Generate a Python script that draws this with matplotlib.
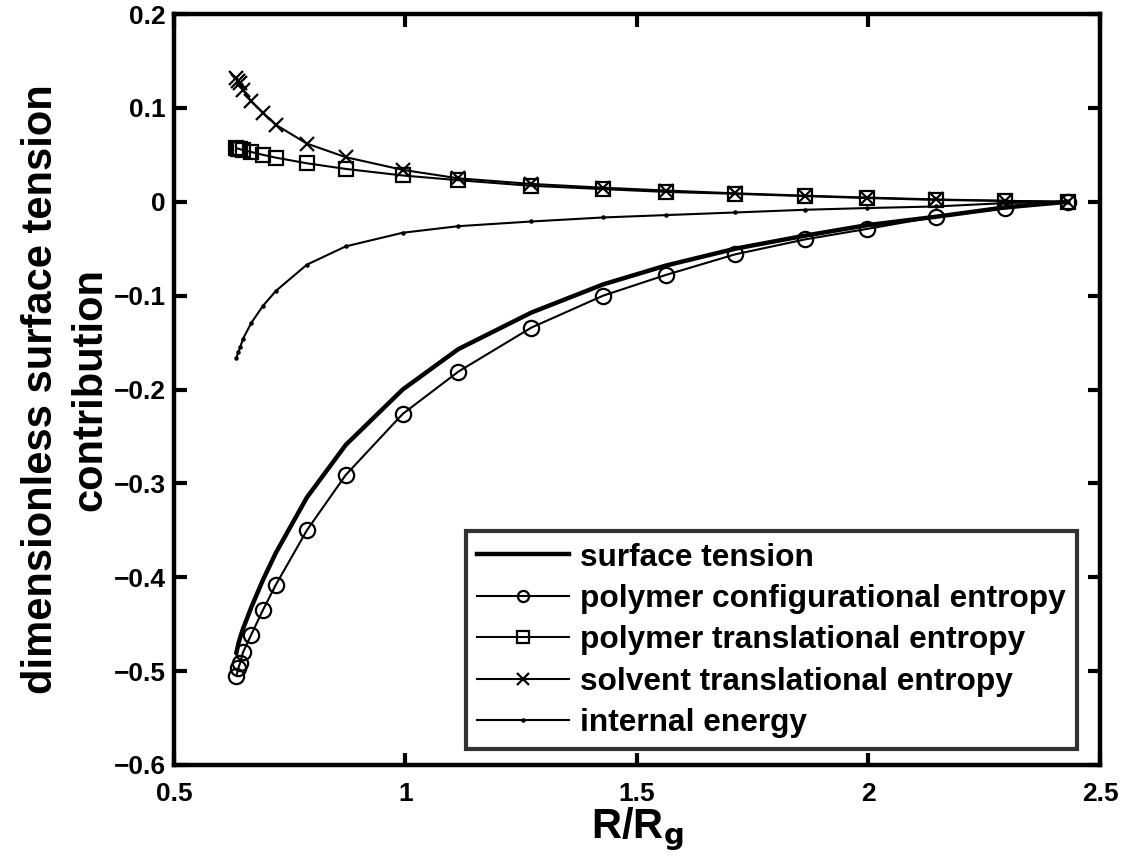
import matplotlib
matplotlib.use("Agg")
import matplotlib.pyplot as plt

# R/Rg sample points (shared by all curves)
r_rg = [0.635, 0.639, 0.643, 0.649, 0.667, 0.692, 0.720, 0.787, 0.871, 0.994,
        1.114, 1.272, 1.427, 1.562, 1.712, 1.864, 1.996, 2.145, 2.295, 2.430]

surface_tension = [-0.480, -0.471, -0.464, -0.455, -0.432, -0.403, -0.374, -0.315,
                   -0.259, -0.200, -0.157, -0.118, -0.088, -0.068, -0.050, -0.036,
                   -0.025, -0.016, -0.006, 0.000]
poly_config = [-0.505, -0.497, -0.491, -0.480, -0.461, -0.435, -0.408, -0.350,
               -0.291, -0.226, -0.181, -0.134, -0.100, -0.078, -0.056, -0.040,
               -0.029, -0.016, -0.007, 0.000]
poly_trans = [0.057, 0.0565, 0.056, 0.055, 0.053, 0.050, 0.047, 0.041, 0.035,
              0.028, 0.023, 0.017, 0.0135, 0.0105, 0.0085, 0.006, 0.004, 0.002,
              0.001, 0.000]
solvent_trans = [0.132, 0.129, 0.126, 0.119, 0.107, 0.095, 0.082, 0.062, 0.0475,
                 0.034, 0.025, 0.019, 0.015, 0.012, 0.009, 0.0065, 0.0045, 0.0025,
                 0.001, 0.000]
internal_energy = [-0.166, -0.160, -0.155, -0.146, -0.129, -0.111, -0.095, -0.067,
                   -0.0475, -0.033, -0.026, -0.021, -0.0167, -0.0142, -0.0114,
                   -0.0085, -0.0067, -0.005, -0.0014, 0.000]

xticks = [0.5, 1, 1.5, 2, 2.5]
xtick_labels = ["0.5", "1", "1.5", "2", "2.5"]
yticks = [-0.6, -0.5, -0.4, -0.3, -0.2, -0.1, 0, 0.1, 0.2]
ytick_labels = ["\u22120.6", "\u22120.5", "\u22120.4", "\u22120.3", "\u22120.2",
                "\u22120.1", "0", "0.1", "0.2"]

plt.rcParams["font.family"] = ["Liberation Sans", "DejaVu Sans"]
plt.rcParams["font.weight"] = "bold"

fig = plt.figure(figsize=(11.24, 8.61), dpi=100)
ax = fig.add_axes([0.1548, 0.1115, 0.8238, 0.8722])

ax.plot(r_rg, surface_tension, color="k", lw=3.2, label="surface tension")
ax.plot(r_rg, poly_config, color="k", lw=1.5, marker="o", ms=11, mfc="none",
        mew=1.6, label="polymer configurational entropy")
ax.plot(r_rg, poly_trans, color="k", lw=1.5, marker="s", ms=9.5, mfc="none",
        mew=1.6, label="polymer translational entropy")
ax.plot(r_rg, solvent_trans, color="k", lw=1.5, marker="x", ms=9.5, mew=1.6,
        label="solvent translational entropy")
ax.plot(r_rg, internal_energy, color="k", lw=1.5, marker=".", ms=4.5,
        label="internal energy")

ax.set_xlim(0.5, 2.5)
ax.set_ylim(-0.6, 0.2)
ax.set_xticks(xticks)
ax.set_xticklabels(xtick_labels)
ax.set_yticks(yticks)
ax.set_yticklabels(ytick_labels)
ax.tick_params(direction="in", length=9, width=3, labelsize=19,
               top=True, right=True)
ax.tick_params(axis="x", pad=12)
ax.tick_params(axis="y", pad=6)
for s in ax.spines.values():
    s.set_linewidth(3.2)

ax.set_xlabel("R/R$_\\mathbf{g}$", fontsize=30, fontweight="bold", labelpad=0)
ax.set_ylabel("dimensionless surface tension\ncontribution", fontsize=30,
              fontweight="bold", labelpad=2, linespacing=1.3)

leg = ax.legend(loc="lower right", bbox_to_anchor=(0.975, 0.021), fontsize=22.8,
                frameon=True, fancybox=False, edgecolor="k", handlelength=2.9,
                borderpad=0.35, labelspacing=0.36, handletextpad=0.35,
                borderaxespad=0)
leg.get_frame().set_linewidth(3)
for h in leg.legend_handles:
    if h.get_marker() in ("o", "s", "x"):
        h.set_markersize(8)

fig.savefig("out.png", dpi=100)
